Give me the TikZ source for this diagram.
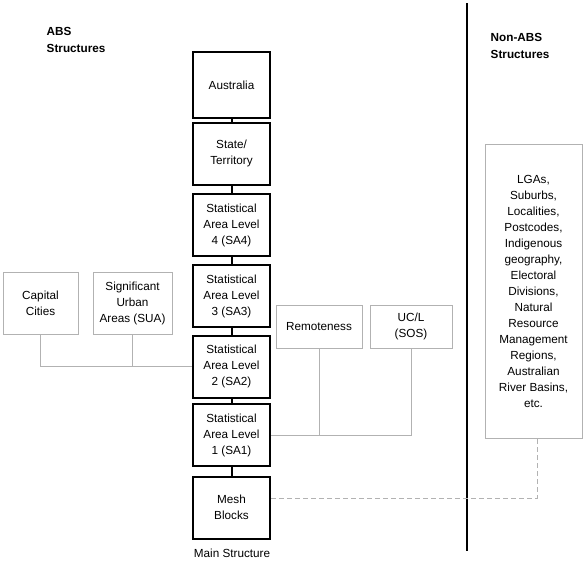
\documentclass[tikz,border=0pt]{standalone}
\usepackage{fontspec}
\setmainfont{Liberation Sans}
\usetikzlibrary{positioning,calc}

\begin{document}
\begin{tikzpicture}[x=0.75pt,y=-0.75pt,
  font=\fontsize{8.8}{12}\selectfont,
  mainbox/.style={draw=black, line width=1.5pt, minimum width=57.75pt,
    minimum height=46.5pt, align=center, inner sep=1pt},
  sidebox/.style={draw=gray!60, line width=0.6pt, align=center, inner sep=1pt},
  header/.style={anchor=west, align=left, font=\fontsize{8.8}{12.75}\selectfont\bfseries},
  link/.style={line width=1.5pt},
  sidelink/.style={draw=gray!60, line width=0.6pt},
  otherlink/.style={draw=gray!60, line width=0.6pt, dash pattern=on 3.5pt off 2.5pt}]
\useasboundingbox (0,0) rectangle (585,561);
% headings
\node[header] (abs) at (42,40) {ABS\\Structures};
\node[header] (nonabs) at (486,46) {Non-ABS\\Structures};
% main chain
\node[mainbox, minimum height=49pt] (aus) at (231.5,85) {Australia};
\node[mainbox] (state) at (231.5,153.5) {State/\\Territory};
\node[mainbox] (sa4) at (231.5,225) {Statistical\\Area Level\\4 (SA4)};
\node[mainbox] (sa3) at (231.5,296) {Statistical\\Area Level\\3 (SA3)};
\node[mainbox] (sa2) at (231.5,366.5) {Statistical\\Area Level\\2 (SA2)};
\node[mainbox] (sa1) at (231.5,435) {Statistical\\Area Level\\1 (SA1)};
\node[mainbox] (mesh) at (231.5,507.5) {Mesh\\Blocks};
\node (mainlbl) at (232,553) {Main Structure};
\draw[link] (aus) -- (state) -- (sa4) -- (sa3) -- (sa2) -- (sa1) -- (mesh);
% built from SA2
\node[sidebox, minimum width=56.25pt, minimum height=46.5pt] (cap) at (40.5,303) {Capital\\Cities};
\node[sidebox, minimum width=59.25pt, minimum height=46.5pt] (sua) at (132.5,303) {Significant\\Urban\\Areas (SUA)};
\draw[sidelink] (cap.south) |- (sa2.west);
\draw[sidelink] (sua.south) -- (sua.south |- sa2.west);
% built from SA1
\node[sidebox, minimum width=64.5pt, minimum height=32.25pt] (remote) at (319,326.5) {Remoteness};
\node[sidebox, minimum width=61.5pt, minimum height=32.25pt] (ucl) at (411,326.5) {UC/L\\(SOS)};
\draw[sidelink] (sa1.east) -| (ucl.south);
\draw[sidelink] (remote.south) -- (remote.south |- sa1.east);
% non-ABS side
\coordinate (divtop) at (467,3);
\coordinate (divbot) at (467,551);
\draw[line width=1.5pt] (divtop) -- (divbot);
\node[sidebox, minimum width=72.75pt, minimum height=220.5pt] (other) at (533.5,291)
  {LGAs,\\Suburbs,\\Localities,\\Postcodes,\\Indigenous\\geography,\\Electoral\\Divisions,\\Natural\\Resource\\Management\\Regions,\\Australian\\River Basins,\\etc.};
\draw[otherlink] ([yshift=7pt]mesh.east) -| ([xshift=2.6pt]other.south);
\end{tikzpicture}
\end{document}
